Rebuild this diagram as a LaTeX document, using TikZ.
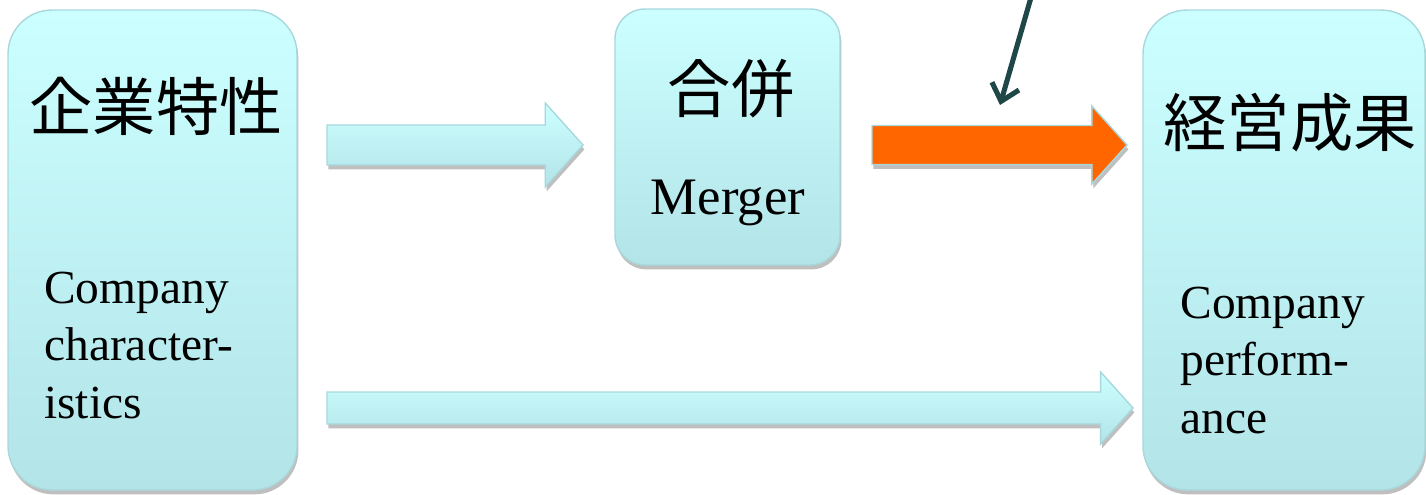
\documentclass[tikz,border=0pt]{standalone}
\usepackage{fontspec}
\setmainfont{Liberation Serif}
\newfontfamily\jpfont{Noto Sans CJK JP}
\usetikzlibrary{calc,shadows,arrows.meta}

\definecolor{boxtop}{HTML}{CCFFFF}
\definecolor{boxbottom}{HTML}{B2E4E8}
\definecolor{boxline}{HTML}{A8D8DC}
\definecolor{mergeorange}{HTML}{FF6600}
\definecolor{pointer}{HTML}{1F4748}

\tikzset{
  box/.style={draw=boxline, line width=0.8pt, top color=boxtop, bottom color=boxbottom,
    drop shadow={shadow xshift=0.8pt, shadow yshift=-2.5pt, fill=black, opacity=0.25}},
  hot/.style={draw=boxline, line width=0.8pt, fill=mergeorange,
    drop shadow={shadow xshift=0.8pt, shadow yshift=-2.5pt, fill=black, opacity=0.25}},
  jp/.style={font=\jpfont\fontsize{36}{40}\selectfont, inner sep=0pt},
  en/.style={font=\fontsize{27}{32.6}\selectfont, align=left, inner sep=0pt}
}

% block arrow: style, start, tip, half body, half head
\newcommand{\blockarrow}[5]{%
  \path[#1] ($(#2)+(0,#4)$) -- ($(#3)+({-0.9*#5},#4)$) -- ($(#3)+({-0.9*#5},#5)$) -- (#3)
    -- ($(#3)+({-0.9*#5},-#5)$) -- ($(#3)+({-0.9*#5},-#4)$) -- ($(#2)+(0,-#4)$) -- cycle;}

\begin{document}
\begin{tikzpicture}[x=0.02cm,y=0.02cm]
  \useasboundingbox (0,0) rectangle (1426,494);

  % boxes
  \node[box, rounded corners=25pt, minimum width=5.78cm, minimum height=9.6cm] (feature) at (152.5,244) {};
  \node[box, rounded corners=17pt, minimum width=4.5cm, minimum height=5.12cm] (merger) at (727.5,357) {};
  \node[box, rounded corners=25pt, minimum width=5.64cm, minimum height=9.6cm] (result) at (1284,244) {};

  \node[jp] (featurejp) at (156,388) {企業特性};
  \node[en, anchor=base west] (featureen) at (44,76) {Company\\character-\\istics};
  \node[jp] (mergerjp) at (731,405) {合併};
  \node[font=\fontsize{30}{34}\selectfont, inner sep=0pt, anchor=base] (mergeren) at (728,279) {Merger};
  \node[jp] (resultjp) at (1290,371) {経営成果};
  \node[en, anchor=base west] (resulten) at (1180,61) {Company\\perform-\\ance};

  % arrows
  \coordinate (a1s) at (327,349);
  \coordinate (a1e) at (583,349);
  \coordinate (a2s) at (872,349);
  \coordinate (a2e) at (1127,349);
  \coordinate (a3s) at (327,86);
  \coordinate (a3e) at (1133,86);
  \blockarrow{box}{a1s}{a1e}{20}{42}
  \blockarrow{hot}{a2s}{a2e}{19.5}{39}
  \blockarrow{box}{a3s}{a3e}{16}{36}

  \coordinate (cause) at (1032,500);
  \coordinate (impact) at (1000,389);
  \draw[pointer, line width=2.9pt, -{Straight Barb[length=9pt,width=16pt]}] (cause) -- (impact);
\end{tikzpicture}
\end{document}
